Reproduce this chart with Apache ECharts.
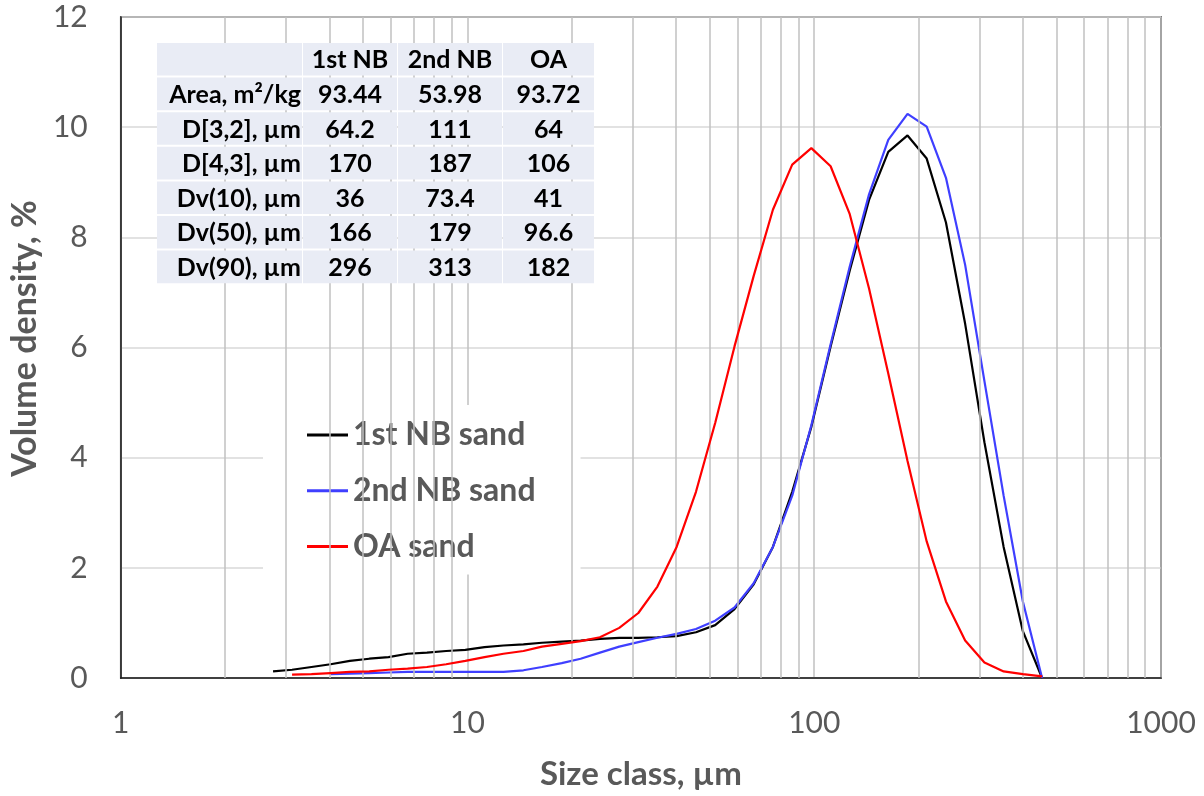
<!DOCTYPE html>
<html><head><meta charset="utf-8">
<script src="https://cdn.jsdelivr.net/npm/echarts@6/dist/echarts.min.js"></script>
<style>html,body{margin:0;padding:0;background:#fff}#c{width:1204px;height:796px}</style>
</head><body><div id="c"></div>
<script>
// Size classes (µm) of the instrument, read from the point spacing
const sizeClasses = [2.75,3.12,3.55,4.03,4.58,5.21,5.92,6.72,7.64,8.68,9.86,11.2,12.7,14.5,16.4,18.7,21.2,24.1,27.4,31.1,35.3,40.1,45.6,51.8,58.9,66.9,76.0,86.4,98.1,111.5,126.6,143.9,163.5,185.8,211.0,239.8,272.4,309.6,351.7,399.6,454.0];
const nb1Sand = [0.12,0.15,0.20,0.25,0.31,0.35,0.38,0.44,0.46,0.49,0.51,0.56,0.59,0.61,0.64,0.66,0.68,0.71,0.73,0.73,0.74,0.76,0.83,0.96,1.25,1.70,2.38,3.38,4.56,6.02,7.40,8.68,9.55,9.85,9.43,8.27,6.43,4.28,2.38,0.85,0];
const nb2Sand = [null,null,null,0.07,0.08,0.09,0.10,0.11,0.11,0.11,0.11,0.11,0.11,0.14,0.20,0.27,0.35,0.46,0.57,0.65,0.73,0.80,0.89,1.04,1.28,1.72,2.38,3.31,4.59,6.06,7.47,8.78,9.77,10.24,10.01,9.08,7.50,5.39,3.31,1.39,0];
const oaSand = [null,0.06,0.07,0.09,0.11,0.12,0.15,0.17,0.20,0.25,0.31,0.38,0.44,0.49,0.57,0.62,0.67,0.74,0.91,1.18,1.66,2.38,3.38,4.63,6.02,7.30,8.50,9.32,9.62,9.29,8.42,7.07,5.53,3.94,2.48,1.39,0.68,0.28,0.12,0.07,0.03];
const seriesNames = ['1st NB sand','2nd NB sand','OA sand'];
const minorGridValues = [2,3,4,5,6,7,8,9,20,30,40,50,60,70,80,90,200,300,400,500,600,700,800,900];
const tableColumns = ['1st NB','2nd NB','OA'];
const tableRowLabels = ['Area, m²/kg','D[3,2], µm','D[4,3], µm','Dv(10), µm','Dv(50), µm','Dv(90), µm'];
const tableNB1 = ['93.44','64.2','170','36','166','296'];
const tableNB2 = ['53.98','111','187','73.4','179','313'];
const tableOA = ['93.72','64','106','41','96.6','182'];

const FONT = 'Lato';
const GRAY = '#595959';

function pairs(vals){
  const out = [];
  vals.forEach((v,i)=>{ if(v!==null) out.push([sizeClasses[i], v]); });
  return out;
}

// table graphic
const colX = [157, 303, 398, 503];
const colW = [145, 94, 104, 91];
const rowTop = 43, rowH = 34.6, cellH = 32.6;
const tableEls = [];
const header = [''].concat(tableColumns);
const body = tableRowLabels.map((lab,i)=>[lab, tableNB1[i], tableNB2[i], tableOA[i]]);
const allRows = [header].concat(body);
allRows.forEach((row, r)=>{
  row.forEach((txt, c)=>{
    const y = rowTop + r*rowH;
    tableEls.push({type:'rect', shape:{x:colX[c], y:y, width:colW[c], height:cellH}, style:{fill:'#e9ecf5'}, z:100});
    if(txt!==''){
      const right = (c===0 && r>0);
      tableEls.push({type:'text', z:101,
        x: right ? colX[c]+colW[c]-1 : colX[c]+colW[c]/2,
        y: y+cellH/2+1,
        style:{text:txt, fill:'#000', font:'bold 25px '+FONT, align: right?'right':'center', verticalAlign:'middle'}});
    }
  });
});

const chart = echarts.init(document.getElementById('c'), null, {renderer:'canvas'});
chart.setOption({
  backgroundColor:'#fff',
  animation:false,
  grid:{left:118, right:43, top:17, bottom:115, show:true, borderColor:'#1a1a1a', borderWidth:1.5, backgroundColor:'transparent'},
  xAxis:{type:'log', logBase:10, min:1, max:1000,
    name:'Size class, µm', nameLocation:'middle', nameGap:80,
    nameTextStyle:{fontFamily:FONT, fontWeight:'bold', fontSize:33, color:GRAY},
    axisLine:{show:true, onZero:false, lineStyle:{color:'#1a1a1a', width:1.5}},
    axisTick:{show:false},
    axisLabel:{fontFamily:FONT, fontSize:30, color:GRAY, margin:30, formatter:(v)=>String(v)},
    splitLine:{show:true, lineStyle:{color:'#c0c0c0', width:1.5}},
    minorTick:{show:false}, minorSplitLine:{show:false}
  },
  yAxis:{type:'value', min:0, max:12, interval:2,
    name:'Volume density, %', nameLocation:'middle', nameGap:72,
    nameTextStyle:{fontFamily:FONT, fontWeight:'bold', fontSize:34, color:GRAY, padding:[0,0,0,18]},
    axisLine:{show:true, lineStyle:{color:'#1a1a1a', width:1.5}},
    axisTick:{show:false},
    axisLabel:{fontFamily:FONT, fontSize:30, color:GRAY, margin:33},
    splitLine:{show:true, lineStyle:{color:'#d9d9d9', width:1.5}}
  },
  legend:{data:seriesNames, orient:'vertical', left:263, top:405,
    icon:'rect', itemWidth:41, itemHeight:3, itemGap:21.7,
    padding:[13,45,11,44], backgroundColor:'#fff', borderWidth:0,
    textStyle:{fontFamily:FONT, fontWeight:'bold', fontSize:32, color:GRAY, lineHeight:34},
    selectedMode:false},
  graphic: tableEls,
  series:[
    {name:'grid-minor', type:'line', data:[], z:1, silent:true,
      markLine:{silent:true, symbol:['none','none'], label:{show:false}, emphasis:{disabled:true},
        lineStyle:{color:'#c0c0c0', width:1.5, type:'solid'},
        data: minorGridValues.map(v=>({xAxis:v}))}},
    {name:seriesNames[0], type:'line', data:pairs(nb1Sand), symbol:'none', color:'#000', lineStyle:{width:2.2, color:'#000'}, z:3},
    {name:seriesNames[1], type:'line', data:pairs(nb2Sand), symbol:'none', color:'#3f3fff', lineStyle:{width:2.2, color:'#3f3fff'}, z:4},
    {name:seriesNames[2], type:'line', data:pairs(oaSand), symbol:'none', color:'#ff0000', lineStyle:{width:2.2, color:'#ff0000'}, z:5}
  ]
});
</script>
</body></html>
